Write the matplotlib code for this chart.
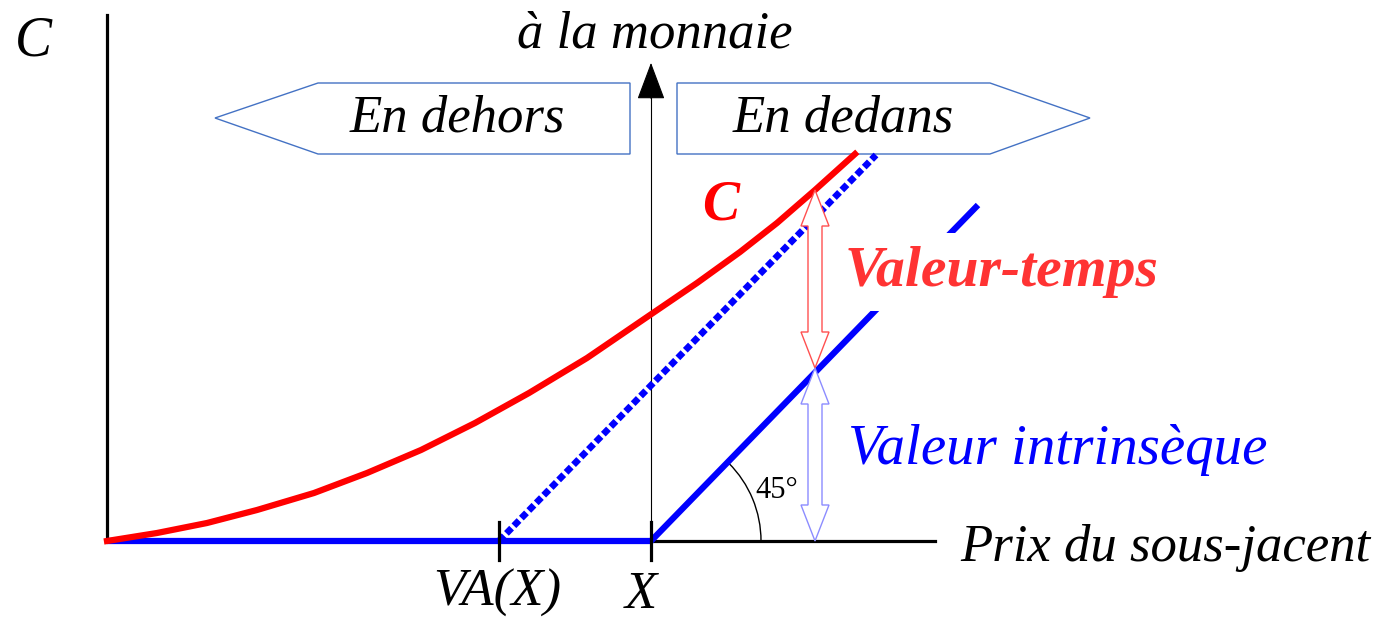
import matplotlib.pyplot as plt
import numpy as np
from matplotlib.patches import Polygon, Arc
from matplotlib.patches import FancyArrowPatch

plt.rcParams['font.family'] = 'serif'
plt.rcParams['font.serif'] = ['Liberation Serif', 'Nimbus Roman', 'DejaVu Serif']

# Données (abscisse = prix du sous-jacent, ordonnée = valeur)
strike = 544          # X
va_strike = 392       # VA(X)

call_x = [0, 50, 100, 150, 207, 260, 314, 368, 422, 480, 543, 590, 633, 670, 708, 748]
call_y = [0, 8, 18, 31, 48, 68, 91, 118, 148, 183, 226, 258, 289, 318, 351, 387]

payoff_x = [0, strike, 871]
payoff_y = [0, 0, 336]

forward_x = [va_strike, 769]
forward_y = [0, 386]

spot = 708            # position des flèches doubles
call_at_spot = 351
intrinsic_at_spot = 173

fig = plt.figure(figsize=(13.83, 6.23), dpi=100)
ax = fig.add_axes([0, 0, 1, 1])
ax.set_xlim(-107, 1276)
ax.set_ylim(-82, 541)
ax.axis('off')

# axes
ax.plot([0, 0], [0, 526], color='black', lw=2.3, zorder=2)
ax.plot([0, 828], [0, 0], color='black', lw=2.3, zorder=2)

# à la monnaie
ax.plot([strike, strike], [0, 460], color='black', lw=0.8, zorder=2)
ax.add_patch(FancyArrowPatch((strike, 440), (strike, 481),
                             arrowstyle='-|>,head_length=1.2,head_width=0.45',
                             mutation_scale=20, color='black', lw=0.8, zorder=3))

# courbes
ax.plot(payoff_x, payoff_y, color='#0000ff', lw=4.5, solid_capstyle='butt', zorder=3)
ax.plot(forward_x, forward_y, color='#0000ff', lw=4.8, linestyle=(0, (1.1, 0.5)),
        zorder=3)
ax.plot(call_x, call_y, color='#ff0000', lw=4.5, solid_joinstyle='round', zorder=4)

# graduations
for xt in [va_strike, strike]:
    ax.plot([xt, xt], [-19, 19], color='black', lw=2.3, zorder=5)

# boîtes flèches
ax.add_patch(Polygon([(108, 423), (211, 458), (523, 458), (523, 387), (211, 387)],
                     closed=True, fc='white', ec='#4472c4', lw=1, zorder=2))
ax.add_patch(Polygon([(570, 458), (883, 458), (983, 423), (883, 387), (570, 387)],
                     closed=True, fc='white', ec='#4472c4', lw=1, zorder=2))


def double_arrow(x, y0, y1, color):
    hw, shw, hl = 14, 7, 36
    pts = [(x, y1), (x + hw, y1 - hl), (x + shw, y1 - hl), (x + shw, y0 + hl),
           (x + hw, y0 + hl), (x, y0), (x - hw, y0 + hl), (x - shw, y0 + hl),
           (x - shw, y1 - hl), (x - hw, y1 - hl)]
    ax.add_patch(Polygon(pts, closed=True, fc='white', ec=color, lw=1, zorder=7))


double_arrow(spot, intrinsic_at_spot, call_at_spot, '#ff5050')
double_arrow(spot, 0, intrinsic_at_spot, '#8c8cff')

# angle 45°
ax.add_patch(Arc((strike, 0), 220, 220, theta1=0, theta2=45, color='black', lw=1))
ax.text(670, 51, '45°', fontsize=22, ha='center', va='center')

# textes
ax.text(-74, 499, 'C', style='italic', fontsize=40, ha='center', va='center')
ax.text(853, -7, 'Prix du sous-jacent', style='italic', fontsize=38,
        ha='left', va='center')
ax.text(548, 506, 'à la monnaie', style='italic', fontsize=38,
        ha='center', va='center')
ax.text(350, 423, 'En dehors', style='italic', fontsize=38,
        ha='center', va='center', zorder=6)
ax.text(736, 423, 'En dedans', style='italic', fontsize=38,
        ha='center', va='center', zorder=6)
ax.text(390, -52, 'VA(X)', style='italic', fontsize=38,
        ha='center', va='center')
ax.text(534, -54, 'X', style='italic', fontsize=38,
        ha='center', va='center')
ax.text(614, 336, 'C', style='italic', weight='bold', fontsize=40,
        color='#ff0000', ha='center', va='center')
ax.text(738, 269, 'Valeur-temps', style='italic', weight='bold',
        fontsize=41.5, color='#ff3333', ha='left', va='center', zorder=6,
        bbox=dict(fc='white', ec='none', pad=9))
ax.text(741, 91, 'Valeur intrinsèque', style='italic', fontsize=41,
        color='#0000ff', ha='left', va='center')

fig.savefig('out.png', dpi=100)
